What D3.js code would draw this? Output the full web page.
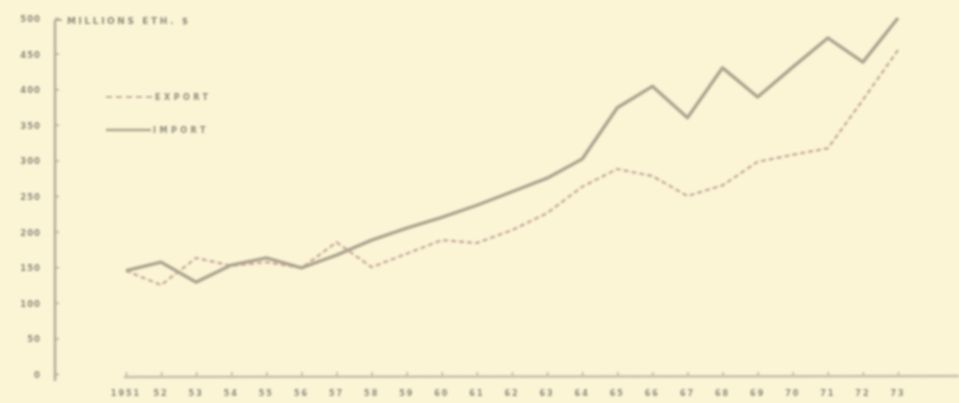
<!DOCTYPE html>
<html>
<head>
<meta charset="utf-8">
<script src="https://cdn.jsdelivr.net/npm/d3@7"></script>
<style>
  body { margin: 0; background: #fbf5d6; }
  svg { display: block; }
  text { font-family: "DejaVu Sans", sans-serif; font-weight: bold; fill: #8f8a7c; }
</style>
</head>
<body>
<div class="container"></div>
<script>
// years along the bottom, values in millions of Eth. $
var years = [1951, 1952, 1953, 1954, 1955, 1956, 1957, 1958, 1959, 1960, 1961, 1962,
             1963, 1964, 1965, 1966, 1967, 1968, 1969, 1970, 1971, 1972, 1973];
var yearLabels = ["1951", "52", "53", "54", "55", "56", "57", "58", "59", "60", "61", "62",
                  "63", "64", "65", "66", "67", "68", "69", "70", "71", "72", "73"];
var imports = [145, 157, 129, 153, 163, 149, 167, 188, 205, 220, 237, 256,
               275, 302, 374, 404, 360, 430, 389, 431, 472, 438, 500];
var exports = [145, 125, 163, 152, 157, 149, 185, 150, 169, 188, 184, 202,
               226, 263, 288, 278, 250, 265, 298, 308, 317, 385, 455];
var yTicks = [0, 50, 100, 150, 200, 250, 300, 350, 400, 450, 500];

var W = 959, H = 403;

var svg = d3.select(".container")
  .insert("svg")
  .attr("width", W)
  .attr("height", H);

// the scan is soft, so blur the marks a bit
svg.append("defs").append("filter")
  .attr("id", "soft")
  .append("feGaussianBlur")
  .attr("stdDeviation", 0.9);

var g = svg.append("g").attr("filter", "url(#soft)");

var x = d3.scalePoint().domain(years).range([126, 898]);
var y = d3.scaleLinear().domain([0, 500]).range([374, 18]);

// y axis: line with small ticks on the right side
var yAxis = d3.axisRight(y).tickValues(yTicks).tickSize(4).tickFormat("");
var ya = g.append("g").attr("transform", "translate(55,0)").call(yAxis);
ya.select(".domain").remove();
ya.selectAll(".tick line").attr("stroke", "#b3ab98").attr("stroke-width", 1.5);
g.append("line")
  .attr("x1", 55).attr("x2", 55).attr("y1", 20).attr("y2", 381)
  .attr("stroke", "#b3ab98").attr("stroke-width", 2.5);
g.append("line")
  .attr("x1", 55).attr("x2", 62).attr("y1", 20).attr("y2", 20)
  .attr("stroke", "#b3ab98").attr("stroke-width", 2);

g.selectAll(".ylab")
  .data(yTicks)
  .enter().append("text")
  .attr("class", "ylab")
  .attr("x", 41)
  .attr("y", function(d) { return y(d) + 4; })
  .attr("text-anchor", "end")
  .style("font-size", "8.5px")
  .style("letter-spacing", "1px")
  .text(function(d) { return d; });

// x axis: long line with small upward ticks
var xAxis = d3.axisTop(x).tickSize(5).tickFormat("");
var xa = g.append("g").attr("transform", "translate(0,377)").call(xAxis);
xa.select(".domain").remove();
xa.selectAll(".tick line").attr("stroke", "#bdb19f").attr("stroke-width", 1.5);
g.append("line")
  .attr("x1", 124).attr("x2", W).attr("y1", 377).attr("y2", 376)
  .attr("stroke", "#cbbcab").attr("stroke-width", 2.5);

g.selectAll(".xlab")
  .data(years)
  .enter().append("text")
  .attr("class", "xlab")
  .attr("x", function(d) { return x(d); })
  .attr("y", 396)
  .attr("text-anchor", "middle")
  .style("font-size", "8px")
  .style("letter-spacing", "2px")
  .text(function(d, i) { return yearLabels[i]; });

// title
g.append("text")
  .attr("x", 67).attr("y", 24)
  .style("font-size", "9px")
  .style("letter-spacing", "2.6px")
  .text("MILLIONS ETH. $");

var line = d3.line()
  .x(function(d, i) { return x(years[i]); })
  .y(function(d) { return y(d); });

g.append("path")
  .datum(exports)
  .attr("d", line)
  .attr("fill", "none")
  .attr("stroke", "#c9ad9d")
  .attr("stroke-width", 2.4)
  .attr("stroke-dasharray", "5,3");

g.append("path")
  .datum(imports)
  .attr("d", line)
  .attr("fill", "none")
  .attr("stroke", "#ada48f")
  .attr("stroke-width", 3.4)
  .attr("stroke-linejoin", "round");

// legend
g.append("line")
  .attr("x1", 106).attr("x2", 153).attr("y1", 97).attr("y2", 97)
  .attr("stroke", "#c9ad9d").attr("stroke-width", 2).attr("stroke-dasharray", "6,4");
g.append("text").attr("x", 155).attr("y", 100)
  .style("font-size", "8px").style("letter-spacing", "3.5px").text("EXPORT");
g.append("line")
  .attr("x1", 106).attr("x2", 151).attr("y1", 130).attr("y2", 130)
  .attr("stroke", "#ada48f").attr("stroke-width", 2.5);
g.append("text").attr("x", 153).attr("y", 133)
  .style("font-size", "8px").style("letter-spacing", "3.5px").text("IMPORT");
</script>
</body>
</html>
